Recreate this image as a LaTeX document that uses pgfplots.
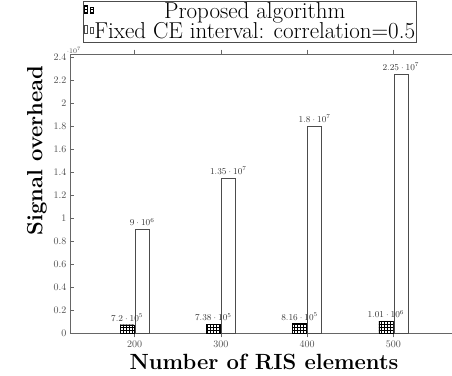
\documentclass[border=0pt]{standalone}
\usepackage{pgfplots}
\pgfplotsset{compat=1.18}
\usetikzlibrary{patterns}
\begin{document}
\begin{tikzpicture}
\begin{axis}[
  at={(0,0)}, anchor=south west,
  scale only axis, width=388pt, height=279pt,
  ybar=1pt, bar width=14pt,
  xmin=125, xmax=575, ymin=0, ymax=2.426e7,
  xtick={200,300,400,500},
  ytick={0,2000000,4000000,6000000,8000000,10000000,12000000,14000000,16000000,18000000,20000000,22000000,24000000},
  scaled y ticks=base 10:-7,
  ytick scale label code/.code={$\cdot 10^{7}$},
  axis line style={black!60},
  every tick/.style={black!60},
  tick label style={font=\fontsize{10}{12}\selectfont, text=black!70},
  every y tick scale label/.style={at={(rel axis cs:0,1)}, anchor=south, xshift=4pt, yshift=-1pt, inner sep=1pt, font=\scriptsize, text=black!70},
  xlabel={Number of RIS elements},
  ylabel={Signal overhead},
  xlabel style={font=\fontsize{22}{26}\selectfont\bfseries},
  ylabel style={font=\fontsize{22}{26}\selectfont\bfseries, at={(ticklabel cs:0.64)}, xshift=4pt},
  nodes near coords={\pgfmathprintnumber[sci,precision=2]{\pgfplotspointmeta}},
  every node near coord/.append style={font=\fontsize{9}{11}\selectfont, text=black!80},
  legend cell align=center,
  legend style={font=\fontsize{23}{26}\selectfont, at={(axis description cs:0.464,1)}, anchor=south,
    yshift=12pt, draw=black!70, inner sep=1pt, row sep=1.5pt,
    nodes={inner sep=0.5pt}},
]
\addplot[draw=black, pattern=grid, pattern color=black] coordinates {
  (200,720000) (300,738000) (400,816000) (500,1010000)};
\addplot[draw=black!70, fill=white] coordinates {
  (200,9000000) (300,13500000) (400,18000000) (500,22500000)};
\legend{Proposed algorithm, Fixed CE interval: correlation=0.5}
\end{axis}
\pgfresetboundingbox
\path (-70pt,-42pt) rectangle (382pt,333pt);
\end{tikzpicture}
\end{document}
